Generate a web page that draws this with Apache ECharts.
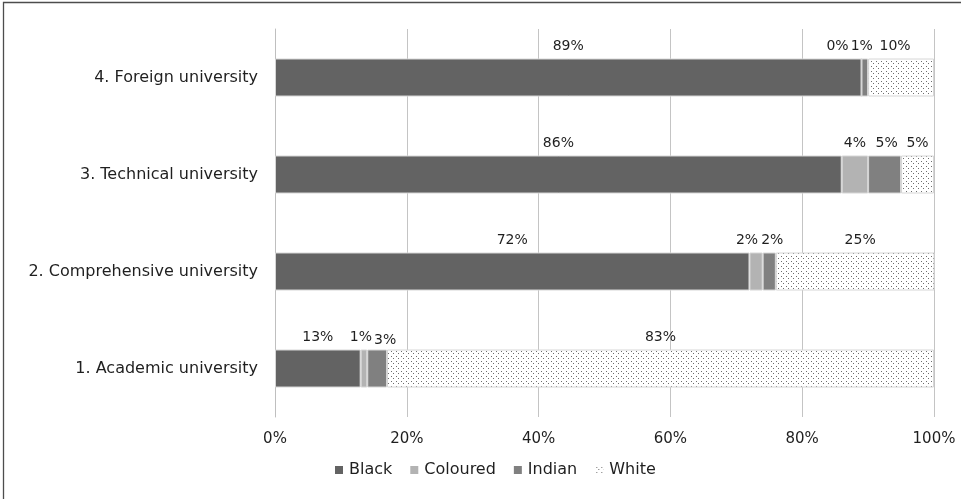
<!DOCTYPE html>
<html>
<head>
<meta charset="utf-8">
<script src="https://cdn.jsdelivr.net/npm/echarts@6/dist/echarts.min.js"></script>
<style>
  html, body { margin: 0; padding: 0; background: #fff; }
  #chart { width: 961px; height: 499px; }
</style>
</head>
<body>
<div id="chart"></div>
<script>
// University types, bottom to top
const categories = [
  '1. Academic university',
  '2. Comprehensive university',
  '3. Technical university',
  '4. Foreign university'
];

// Share of students by population group (%)
const black    = [13, 72, 86, 89];
const coloured = [1, 2, 4, 0];
const indian   = [3, 2, 5, 1];
const white    = [83, 25, 5, 10];

const xTicks = [0, 20, 40, 60, 80, 100];

// Horizontal/vertical nudges for crowded value labels, per series and category
const labelNudge = {
  Black:    [[0, 0], [0, 0], [0, 0], [0, 0]],
  Coloured: [[-3, 0], [-9, 0], [0, 0], [-24, 0]],
  Indian:   [[8, 3], [3, 0], [2, 0], [-3, 0]],
  White:    [[0, 0], [5, 0], [0, 0], [-6, 0]]
};

// Dotted fill used for the White segments
function dotPattern() {
  const c = document.createElement('canvas');
  c.width = 10; c.height = 5;
  const g = c.getContext('2d');
  g.fillStyle = '#ffffff';
  g.fillRect(0, 0, 10, 5);
  g.fillStyle = '#6e6e6e';
  g.fillRect(1, 1, 1, 1);
  g.fillRect(6, 1, 1, 1);
  g.fillRect(3, 3, 1, 1);
  g.fillRect(8, 3, 1, 1);
  return c;
}

const fontFamily = 'DejaVu Sans';
const textColor = '#1f1f1f';

function makeSeries(name, values, fill) {
  return {
    name: name,
    type: 'bar',
    stack: 'total',
    barWidth: 38,
    data: values.map((v, i) => ({
      value: v,
      label: { offset: labelNudge[name][i] }
    })),
    itemStyle: { color: fill, borderColor: '#d6d6d6', borderWidth: 1 },
    label: {
      show: true,
      position: 'top',
      distance: 5,
      fontFamily: fontFamily,
      fontSize: 14,
      color: textColor,
      formatter: p => p.value + '%'
    },
    emphasis: { disabled: true }
  };
}

const chart = echarts.init(document.getElementById('chart'), null, { renderer: 'canvas' });

chart.setOption({
  animation: false,
  backgroundColor: '#ffffff',
  textStyle: { fontFamily: fontFamily },
  graphic: [{
    type: 'rect',
    shape: { x: 3.5, y: 2.5, width: 970, height: 510 },
    style: { fill: 'none', stroke: '#4d4d4d', lineWidth: 1.3 },
    silent: true
  }],
  grid: { left: 275, right: 27, top: 29, bottom: 82 },
  legend: {
    left: 330,
    top: 457,
    itemWidth: 8,
    itemHeight: 8,
    itemGap: 18,
    icon: 'rect',
    itemStyle: { borderWidth: 0 },
    textStyle: { fontFamily: fontFamily, fontSize: 16, color: textColor, padding: [0, 0, 0, 1] },
    data: ['Black', 'Coloured', 'Indian', 'White']
  },
  xAxis: {
    type: 'value',
    min: xTicks[0],
    max: xTicks[xTicks.length - 1],
    interval: 20,
    axisLine: { show: false },
    axisTick: { show: false },
    splitLine: { lineStyle: { color: '#c4c4c4', width: 1 } },
    axisLabel: {
      margin: 15,
      fontFamily: fontFamily,
      fontSize: 15,
      color: textColor,
      formatter: v => v + '%'
    }
  },
  yAxis: {
    type: 'category',
    data: categories,
    axisLine: { show: true, lineStyle: { color: '#bfbfbf' } },
    axisTick: { show: false },
    axisLabel: {
      margin: 17,
      fontFamily: fontFamily,
      fontSize: 16,
      color: textColor
    }
  },
  series: [
    makeSeries('Black', black, '#636363'),
    makeSeries('Coloured', coloured, '#b3b3b3'),
    makeSeries('Indian', indian, '#808080'),
    makeSeries('White', white, { image: dotPattern(), repeat: 'repeat' })
  ]
});
</script>
</body>
</html>
